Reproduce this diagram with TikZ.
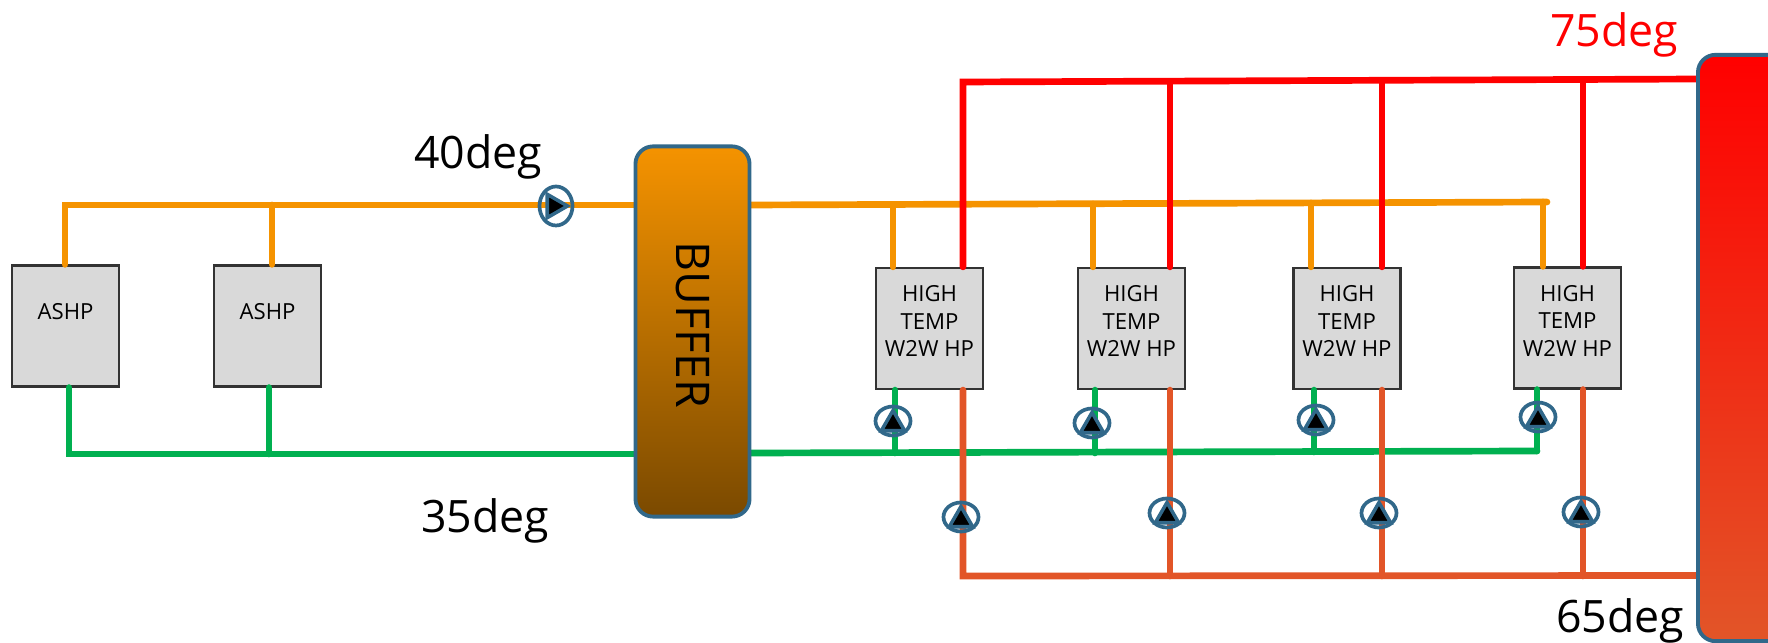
\documentclass[tikz,border=0pt]{standalone}
\usepackage{graphicx}
\usepackage{fontspec}
\setmainfont{Open Sans}
\usetikzlibrary{shapes}
\usetikzlibrary{calc}
\usetikzlibrary{positioning, fit, arrows.meta}

\definecolor{pipeorange}{HTML}{F59300}
\definecolor{pipegreen}{HTML}{00B050}
\definecolor{pipered}{HTML}{FF0000}
\definecolor{piperust}{HTML}{E25528}
\definecolor{tankblue}{HTML}{31688A}

\begin{document}
\begin{tikzpicture}[x=0.01cm, y=-0.01cm,
    unit/.style = {draw=black!80, line width=0.6pt, fill=black!15, minimum width=1.07cm, minimum height=1.21cm, inner sep=0pt, font=\fontsize{6.3}{7.8}\selectfont, align=center},
    tank/.style = {draw=tankblue, line width=1.1pt, rounded corners=5pt, inner sep=0pt},
    pipe/.style = {line width=1.9pt, line cap=round},
    pumpring/.style = {draw=tankblue, line width=1.05pt, ellipse, inner sep=0pt, minimum width=0.35cm, minimum height=0.29cm},
    pumptip/.style = {draw=tankblue, line width=1pt, fill=black, regular polygon, regular polygon sides=3, inner sep=0pt, minimum size=0.27cm},
    temp/.style = {anchor=base, font=\fontsize{12.7}{15}\selectfont}]
    \useasboundingbox (0,0) rectangle (1768,643);

    % Nodes
    \node[unit, text depth=0.3cm] (ashpa) at (65.5,326) {ASHP};
    \node[unit, text depth=0.3cm] (ashpb) at (267.5,326) {ASHP};
    \node[unit] (hpa) at (929.5,328.5) {HIGH\\TEMP\\W2W HP\\[-0.13cm]};
    \node[unit] (hpb) at (1131.5,328.5) {HIGH\\TEMP\\W2W HP\\[-0.13cm]};
    \node[unit] (hpc) at (1347,328.5) {HIGH\\TEMP\\W2W HP\\[-0.13cm]};
    \node[unit] (hpd) at (1567.5,328) {HIGH\\TEMP\\W2W HP\\[-0.13cm]};

    % Tees
    \coordinate (oa) at (65,205);
    \coordinate (ob) at (272,205);
    \coordinate (oc) at (893,205);
    \coordinate (od) at (1093,204);
    \coordinate (oe) at (1311,203);
    \coordinate (of) at (1543,202);
    \coordinate (oend) at (1547,202);
    \coordinate (ga) at (69,454);
    \coordinate (gb) at (269,454);
    \coordinate (gc) at (895,453);
    \coordinate (gd) at (1095,453);
    \coordinate (ge) at (1314,452);
    \coordinate (gf) at (1537,451);
    \coordinate (ra) at (963,82);
    \coordinate (rb) at (1170,81.5);
    \coordinate (rc) at (1382,80.5);
    \coordinate (rd) at (1583,79.5);
    \coordinate (sa) at (963,576);
    \coordinate (sb) at (1170,576);
    \coordinate (sc) at (1382,576);
    \coordinate (sd) at (1583,576);

    % Lines
    \draw[pipe, pipeorange] (ashpa.north -| oa) -- (oa) -- (635,205) coordinate (bufin);
    \draw[pipe, pipeorange] (ashpb.north -| ob) -- (ob);
    \draw[pipe, pipeorange] (750,205) coordinate (bufout) -- (oend);
    \draw[pipe, pipeorange] (oc) -- (hpa.north -| oc);
    \draw[pipe, pipeorange] (od) -- (hpb.north -| od);
    \draw[pipe, pipeorange] (oe) -- (hpc.north -| oe);
    \draw[pipe, pipeorange] (of) -- (hpd.north -| of);

    \draw[pipe, pipegreen] (ashpa.south -| ga) -- (ga) -- (635,454);
    \draw[pipe, pipegreen] (ashpb.south -| gb) -- (gb);
    \draw[pipe, pipegreen] (750,453) -- (gf);
    \draw[pipe, pipegreen] (hpa.south -| gc) -- (gc);
    \draw[pipe, pipegreen] (hpb.south -| gd) -- (gd);
    \draw[pipe, pipegreen] (hpc.south -| ge) -- (ge);
    \draw[pipe, pipegreen] (hpd.south -| gf) -- (gf);

    \draw[pipe, pipered] (hpa.north -| ra) -- (ra) -- (1700,79);
    \draw[pipe, pipered] (hpb.north -| rb) -- (rb);
    \draw[pipe, pipered] (hpc.north -| rc) -- (rc);
    \draw[pipe, pipered] (hpd.north -| rd) -- (rd);

    \draw[pipe, piperust] (hpa.south -| sa) -- (sa) -- (1700,575.5);
    \draw[pipe, piperust] (hpb.south -| sb) -- (sb);
    \draw[pipe, piperust] (hpc.south -| sc) -- (sc);
    \draw[pipe, piperust] (hpd.south -| sd) -- (sd);

    % Tanks
    \node[tank, top color=pipeorange, bottom color=pipeorange!50!black, minimum width=1.14cm, minimum height=3.70cm, font=\fontsize{13.2}{16}\selectfont] (buffer) at (692.5,331.5) {\rotatebox{-90}{BUFFER\hspace{0.13cm}}};
    \node[tank, top color=pipered, bottom color=piperust, minimum width=1.60cm, minimum height=5.86cm] (store) at (1778,348) {};

    % Pumps
    \foreach \name/\px/\py in {pa/893/421, pb/1092/423, pc/1316/420, pd/1538/417, pe/961/517, pf/1167/513, pg/1379/513, ph/1581/512} {
        \node[pumpring] (\name) at (\px,\py) {};
        \node[pumptip] (\name tip) at (\px,\py+3) {};
    }
    \node[pumpring, minimum width=0.33cm, minimum height=0.39cm] (pi) at (556,206) {};
    \node[pumptip, shape border rotate=-90] (pitip) at (554,206) {};

    % Labels
    \node[temp] (hot) at (478,169) {40deg};
    \node[temp] (cold) at (485,533) {35deg};
    \node[temp, text=pipered] (flow) at (1614,47) {75deg};
    \node[temp] (back) at (1620,633) {65deg};
\end{tikzpicture}
\end{document}
